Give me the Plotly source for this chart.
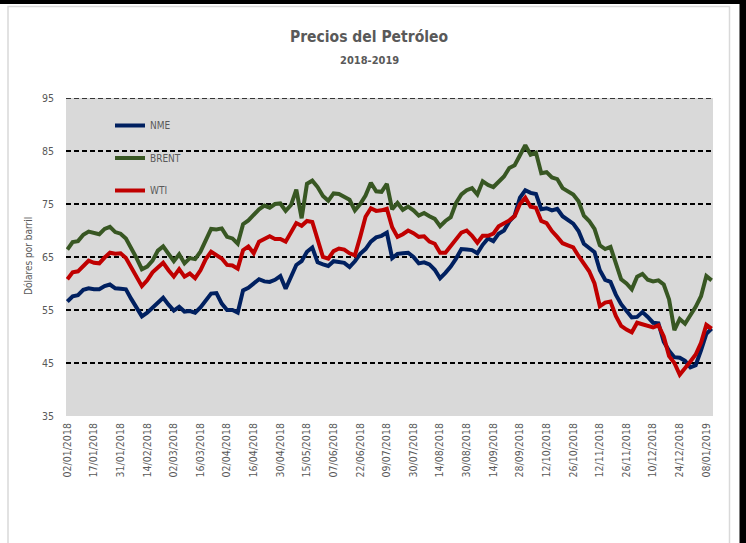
import plotly.graph_objects as go

# Category index of every other trading day (243 categories on the axis)
day_index = list(range(0, 243, 2))

tick_positions = list(range(0, 241, 10))
tick_labels = ["02/01/2018", "17/01/2018", "31/01/2018", "14/02/2018", "02/03/2018",
               "16/03/2018", "02/04/2018", "16/04/2018", "30/04/2018", "15/05/2018",
               "07/06/2018", "22/06/2018", "09/07/2018", "30/07/2018", "14/08/2018",
               "30/08/2018", "14/09/2018", "28/09/2018", "12/10/2018", "26/10/2018",
               "12/11/2018", "26/11/2018", "10/12/2018", "24/12/2018", "08/01/2019"]

y_ticks = [35, 45, 55, 65, 75, 85, 95]

nme = [56.6, 57.6, 57.8, 58.8, 59.1, 58.9, 58.9, 59.5, 59.8, 59.1,
       59.0, 58.9, 57.1, 55.4, 53.8, 54.5, 55.5, 56.5, 57.3, 56.0,
       54.9, 55.6, 54.7, 54.8, 54.5, 55.5, 56.9, 58.1, 58.2, 56.2,
       55.0, 55.0, 54.5, 58.7, 59.2, 60.0, 60.8, 60.4, 60.3, 60.7,
       61.4, 59.0, 61.2, 63.5, 64.2, 66.0, 66.8, 64.0, 63.6, 63.3,
       64.2, 64.1, 63.9, 63.1, 64.2, 65.6, 66.5, 67.9, 68.7, 69.0,
       69.6, 64.8, 65.6, 65.7, 65.8, 65.0, 63.8, 64.0, 63.6, 62.6,
       61.0, 62.0, 63.2, 64.7, 66.5, 66.4, 66.3, 65.7, 67.3, 68.5,
       68.0, 69.4, 70.0, 71.7, 72.8, 76.2, 77.6, 77.1, 76.9, 74.0,
       74.2, 73.8, 74.1, 72.7, 72.0, 71.3, 69.9, 67.5, 66.7, 65.9,
       62.5, 60.7, 60.3, 57.9, 56.1, 54.8, 53.6, 53.7, 54.6, 53.7,
       52.6, 52.5, 49.0, 47.3, 46.1, 46.0, 45.4, 44.2, 44.6, 47.4,
       50.5, 51.5]

brent = [66.4, 67.8, 68.0, 69.2, 69.8, 69.6, 69.3, 70.3, 70.7, 69.7,
         69.4, 68.5, 66.7, 64.8, 62.7, 63.2, 64.3, 66.2, 67.0, 65.6,
         64.2, 65.5, 63.8, 64.8, 64.6, 66.0, 68.0, 70.3, 70.2, 70.4,
         68.8, 68.5, 67.5, 71.2, 71.9, 73.0, 74.0, 74.7, 74.3, 75.0,
         75.1, 73.7, 74.8, 77.7, 72.3, 78.8, 79.4, 78.2, 76.5, 75.6,
         77.0, 76.9, 76.4, 75.8, 73.8, 75.0, 76.6, 79.0, 77.4, 77.3,
         78.8, 74.0, 75.2, 73.9, 74.5, 73.8, 72.8, 73.3, 72.7, 72.2,
         70.8, 71.8, 72.5, 75.2, 76.8, 77.6, 78.0, 76.8, 79.3, 78.6,
         78.2, 79.2, 80.2, 81.8, 82.3, 84.2, 86.1, 84.3, 84.7, 80.8,
         81.0, 80.0, 79.7, 78.0, 77.5, 76.8, 75.5, 72.8, 71.8, 70.3,
         67.2, 66.5, 66.9, 63.6, 60.8, 60.0, 58.9, 61.3, 61.8, 60.7,
         60.4, 60.6, 59.8, 57.0, 51.2, 53.3, 52.4, 54.0, 55.6, 57.6,
         61.4, 60.6]

wti = [60.8, 62.1, 62.3, 63.4, 64.3, 63.9, 63.8, 64.9, 65.8, 65.6,
       65.7, 64.8, 63.0, 61.3, 59.5, 60.6, 62.1, 63.0, 63.9, 62.5,
       61.3, 62.7, 61.3, 61.9, 61.0, 62.5, 64.6, 66.0, 65.4, 64.7,
       63.5, 63.4, 62.8, 66.3, 67.0, 65.7, 67.9, 68.5, 68.9, 68.4,
       68.4, 67.9, 69.6, 71.4, 70.9, 71.8, 71.6, 68.0, 65.0, 64.7,
       66.1, 66.6, 66.4, 65.7, 65.3, 68.8, 72.6, 74.2, 73.7, 73.8,
       74.1, 70.6, 68.8, 69.3, 70.0, 69.5, 68.8, 68.9, 67.9, 67.5,
       65.8, 65.8, 67.0, 68.2, 69.6, 70.0, 69.0, 67.7, 69.0, 69.0,
       69.4, 70.8, 71.3, 71.9, 72.7, 75.0, 76.2, 74.5, 74.3, 71.8,
       71.4, 69.9, 68.8, 67.6, 67.2, 66.8, 65.2, 63.6, 62.3, 60.0,
       55.7, 56.4, 56.6, 53.9, 52.0, 51.3, 50.8, 52.6, 52.3, 52.0,
       51.7, 52.1, 50.0, 46.3, 45.0, 42.8, 44.2, 45.3, 46.6, 48.8,
       52.2, 51.5]

series = [("NME", nme, "#002060"), ("BRENT", brent, "#385723"), ("WTI", wti, "#c00000")]

FONT = "Liberation Sans Narrow, DejaVu Sans Condensed, Arial Narrow, sans-serif"
GRAY = "#595959"
DASH = "5px,3px"

fig = go.Figure()
for name, vals, color in series:
    fig.add_trace(go.Scatter(x=day_index, y=vals, mode="lines", name=name,
                             legendgroup=name,
                             line=dict(color=color, width=4)))

PW, PH, L, T = 647, 318, 66, 98

def px(x):
    return (x - L) / PW

def py(y):
    return (T + PH - y) / PH

fig.update_layout(
    width=746, height=543,
    margin=dict(l=L, r=746 - L - PW, t=T, b=543 - T - PH),
    paper_bgcolor="white", plot_bgcolor="#d9d9d9",
    font=dict(family=FONT, color=GRAY, size=10),
    showlegend=True,
    legend=dict(x=px(110), y=py(111), xanchor="left", yanchor="top",
                bgcolor="rgba(0,0,0,0)", tracegroupgap=13.5,
                font=dict(family=FONT, size=10, color=GRAY)),
    xaxis=dict(range=[-0.5, 242.5], tickvals=tick_positions, ticktext=tick_labels,
               tickangle=-90, showgrid=False, zeroline=False, showline=False,
               tickfont=dict(family=FONT, size=10.5, color=GRAY), ticks="",
               ticklabelstandoff=4),
    yaxis=dict(range=[y_ticks[0], y_ticks[-1]], tickvals=y_ticks, showgrid=True,
               gridcolor="black", griddash=DASH, gridwidth=1.7, zeroline=False,
               showline=False, ticks="", ticklabelstandoff=11,
               tickfont=dict(family=FONT, size=10.5, color=GRAY)),
    annotations=[
        dict(text="<b>Precios del Petróleo</b>", x=px(369), y=py(37), xref="paper", yref="paper",
             xanchor="center", yanchor="middle",
             showarrow=False, font=dict(family=FONT, size=15.5, color=GRAY)),
        dict(text="<b>2018-2019</b>", x=px(369), y=py(60), xref="paper", yref="paper",
             xanchor="center", yanchor="middle",
             showarrow=False, font=dict(family=FONT, size=11, color=GRAY)),
        dict(text="Dólares por barril", x=px(28), y=py(256), xref="paper", yref="paper",
             xanchor="center", yanchor="middle",
             textangle=-90, showarrow=False, font=dict(family=FONT, size=10, color=GRAY)),
    ],
    shapes=[
        # top gridline at the upper range edge (plotly omits the edge gridline)
        dict(type="line", xref="paper", yref="y", x0=0, x1=1, y0=y_ticks[-1], y1=y_ticks[-1],
             line=dict(color="black", width=1.7, dash=DASH), layer="below"),
        dict(type="rect", xref="paper", yref="paper", x0=px(8), x1=px(729.5), y0=py(560), y1=py(6.5),
             line=dict(color="#d9d9d9", width=1.5), fillcolor="rgba(0,0,0,0)", layer="below"),
        dict(type="rect", xref="paper", yref="paper", x0=px(-5), x1=px(750), y0=py(4), y1=py(-5),
             line=dict(width=0), fillcolor="black"),
        dict(type="rect", xref="paper", yref="paper", x0=px(739.5), x1=px(750), y0=py(550), y1=py(-5),
             line=dict(width=0), fillcolor="black"),
    ],
)

fig.write_html("out.html", config={"displayModeBar": False},
               post_script="document.body.style.margin='0';")
